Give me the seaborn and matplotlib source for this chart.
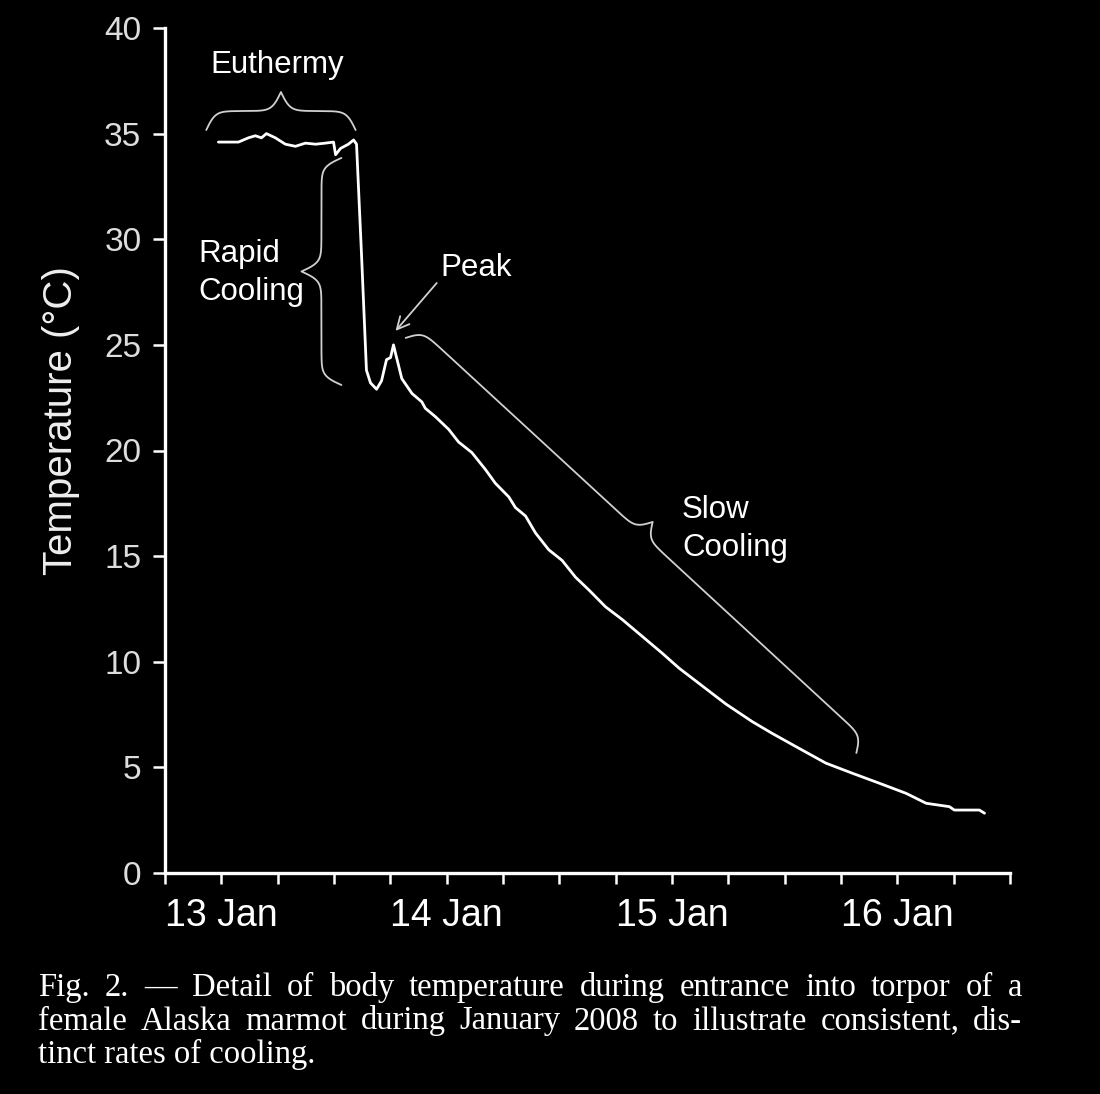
import numpy as np
import pandas as pd
import matplotlib
matplotlib.use("Agg")
import matplotlib.pyplot as plt
import seaborn as sns

# ---------------- data ----------------
days = [12.987, 13.076, 13.12, 13.151, 13.178, 13.2, 13.24, 13.284, 13.329, 13.373,
        13.418, 13.462, 13.498, 13.507, 13.529, 13.564, 13.587, 13.6, 13.622, 13.644,
        13.662, 13.689, 13.711, 13.733, 13.751, 13.764, 13.773, 13.787, 13.801, 13.846,
        13.89, 13.905, 13.95, 14.009, 14.053, 14.112, 14.172, 14.216, 14.276, 14.305,
        14.35, 14.394, 14.453, 14.512, 14.572, 14.631, 14.705, 14.779, 14.868, 14.957,
        15.031, 15.135, 15.239, 15.357, 15.446, 15.564, 15.683, 15.801, 15.92, 16.039,
        16.128, 16.231, 16.253, 16.364, 16.387]
temps = [34.6, 34.6, 34.8, 34.9, 34.8, 35.0, 34.8, 34.5, 34.4, 34.55,
         34.5, 34.55, 34.6, 34.0, 34.3, 34.5, 34.7, 34.5, 29.3, 23.8,
         23.2, 22.9, 23.3, 24.3, 24.4, 25.0, 24.6, 24.0, 23.4, 22.7,
         22.3, 22.0, 21.6, 21.0, 20.4, 19.9, 19.1, 18.45, 17.8, 17.3,
         16.9, 16.1, 15.3, 14.8, 14.0, 13.4, 12.6, 12.0, 11.2, 10.4,
         9.7, 8.85, 8.0, 7.16, 6.6, 5.9, 5.2, 4.72, 4.25, 3.77,
         3.3, 3.14, 2.98, 2.98, 2.83]

y_ticks = [0, 5, 10, 15, 20, 25, 30, 35, 40]
x_major = [13, 14, 15, 16]
x_labels = ["13 Jan", "14 Jan", "15 Jan", "16 Jan"]
x_minor = [12.75, 13.25, 13.5, 13.75, 14.25, 14.5, 14.75, 15.25, 15.5, 15.75,
           16.25, 16.5]
y_label = "Temperature (°C)"

caption_lines = [
    "Fig. 2. — Detail of body temperature during entrance into torpor of a",
    "female Alaska marmot during January 2008 to illustrate consistent, dis-",
    "tinct rates of cooling.",
]

# ---------------- style ----------------
sns.set_theme(style="ticks", rc={
    "figure.facecolor": "black",
    "axes.facecolor": "black",
    "savefig.facecolor": "black",
    "axes.edgecolor": "white",
    "text.color": "white",
    "axes.labelcolor": "white",
    "xtick.color": "white",
    "ytick.color": "white",
})
plt.rcParams["font.family"] = ["Liberation Sans", "DejaVu Sans"]

W, H = 1100, 1094
fig = plt.figure(figsize=(W / 100, H / 100), dpi=100)
ax = fig.add_axes([165 / W, 1 - 873 / H, (1010 - 165) / W, (873 - 28) / H])

df = pd.DataFrame({"day": days, "temp": temps})
sns.lineplot(data=df, x="day", y="temp", ax=ax, color="white", linewidth=2.0,
             estimator=None, sort=False, legend=False)

ax.set_xlim(12.75, 16.5)
ax.set_ylim(0, 40)
ax.set_yticks(y_ticks)
ax.set_yticklabels([str(v) for v in y_ticks], fontsize=24, color="#dddddd")
ax.set_xticks(x_major)
ax.set_xticklabels(x_labels, fontsize=27)
ax.set_xticks(x_minor, minor=True)
ax.tick_params(axis="x", which="both", length=8, width=1.8, direction="out", pad=10)
ax.tick_params(axis="y", which="both", length=9, width=1.8, direction="out", pad=8)
ax.set_xlabel("")
ax.set_ylabel(y_label, fontsize=29, color="#eeeeee")
ax.yaxis.set_label_coords(-0.101, 0.535)

for side in ("top", "right"):
    ax.spines[side].set_visible(False)
for side in ("left", "bottom"):
    ax.spines[side].set_color("white")
    ax.spines[side].set_linewidth(2.4)


# ---------------- annotations ----------------
def brace(ax, p1, p2, depth, beta=0.25, **kw):
    T = ax.transData
    a = T.transform(p1)
    b = T.transform(p2)
    v = b - a
    L = np.hypot(*v)
    u = v / L
    n = np.array([-u[1], u[0]])
    s = np.linspace(0, L / 2, 400)
    h = 1 / (1 + np.exp(-beta * s)) + 1 / (1 + np.exp(-beta * (s - L / 2))) - 0.5
    h = h * depth
    s_full = np.concatenate([s, L - s[::-1]])
    h_full = np.concatenate([h, h[::-1]])
    pts = a + np.outer(s_full, u) + np.outer(h_full, n)
    d = T.inverted().transform(pts)
    ax.plot(d[:, 0], d[:, 1], clip_on=False, **kw)


bkw = dict(color="#d0d0d0", linewidth=1.3)
# Euthermy (tip up)
brace(ax, (12.933, 35.17), (13.596, 35.17), 38, beta=0.22, **bkw)
# Rapid cooling (tip left)
brace(ax, (13.533, 23.1), (13.533, 33.85), 40, beta=0.22, **bkw)
# Slow cooling (tip toward upper right)
brace(ax, (13.818, 25.33), (15.818, 5.68), 32, beta=0.22, **bkw)

tkw = dict(fontsize=22.5, color="white")
ax.text(13.249, 38.25, "Euthermy", ha="center", va="center", **tkw)
ax.text(12.898, 28.4, "Rapid\nCooling", ha="left", va="center", linespacing=1.32, **tkw)
ax.text(13.973, 28.65, "Peak", ha="left", va="center", **tkw)
ax.text(15.044, 16.28, "Slow\nCooling", ha="left", va="center", linespacing=1.32, **tkw)
ax.annotate("", xy=(13.773, 25.66), xytext=(13.956, 27.93),
            arrowprops=dict(arrowstyle="->", color="#d0d0d0", lw=1.3,
                            mutation_scale=22, shrinkA=0, shrinkB=0))

# ---------------- caption (justified) ----------------
renderer = fig.canvas.get_renderer()
x0_px, x1_px = 38, 1022
baselines = [996, 1029.5, 1063]
cap_kw = dict(fontsize=23.5, family=["Liberation Serif", "DejaVu Serif"],
              color="white", va="baseline", ha="left")
for i, line in enumerate(caption_lines):
    yf = 1 - baselines[i] / H
    if i < len(caption_lines) - 1:
        words = line.split(" ")
        texts = [fig.text(0, yf, w, **cap_kw) for w in words]
        widths = [t.get_window_extent(renderer).width for t in texts]
        gap = (x1_px - x0_px - sum(widths)) / (len(words) - 1)
        x = x0_px
        for t, w in zip(texts, widths):
            t.set_x(x / W)
            x += w + gap
    else:
        fig.text(x0_px / W, yf, line, **cap_kw)

fig.savefig("out.png", dpi=100, facecolor="black")
